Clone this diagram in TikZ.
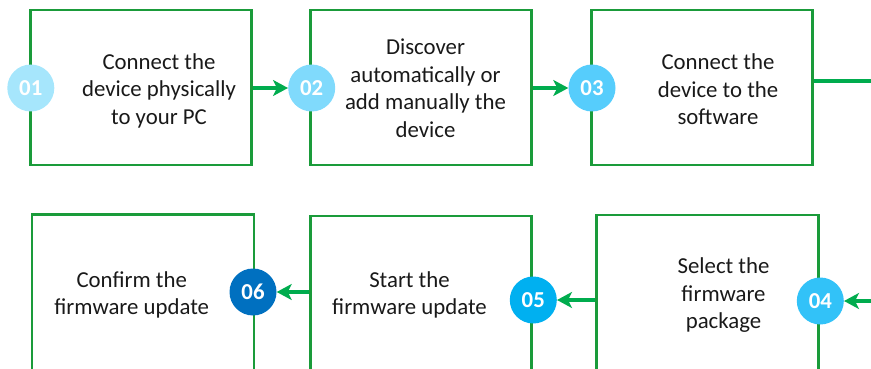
\documentclass[tikz,border=0pt]{standalone}
\usepackage{fontspec}
\setmainfont{Carlito}
\usetikzlibrary{arrows.meta}
\definecolor{boxgreen}{RGB}{26,155,58}
\definecolor{arrgreen}{RGB}{0,172,78}
\definecolor{cA}{RGB}{166,230,252}
\definecolor{cB}{RGB}{128,218,252}
\definecolor{cC}{RGB}{86,205,252}
\definecolor{cD}{RGB}{50,194,248}
\definecolor{cE}{RGB}{0,176,240}
\definecolor{cF}{RGB}{0,112,192}
\tikzset{
  stepbox/.style={draw=boxgreen, line width=2.7pt, inner sep=0pt, minimum width=221pt},
  numdot/.style={circle, inner sep=0pt, minimum size=47pt, text=white,
    font=\fontsize{22.8}{27.5}\selectfont\bfseries},
  steptext/.style={align=center, text=black!90, font=\fontsize{22.8}{27.5}\selectfont},
  arr/.style={draw=arrgreen, line width=3.6pt, -{Stealth[length=15pt,width=16pt,inset=4pt]}},
  link/.style={draw=arrgreen, line width=3.6pt}
}
\begin{document}
\begin{tikzpicture}[x=1pt,y=-1pt]
\useasboundingbox (0,0) rectangle (871,369);
\clip (0,0) rectangle (871,369);
% top row boxes
\node[stepbox, minimum height=155pt] (b1) at (140.8,87.5) {};
\node[stepbox, minimum height=155pt] (b2) at (421.3,87.5) {};
\node[stepbox, minimum height=155pt] (b3) at (701.7,87.5) {};
% bottom row boxes
\node[stepbox, minimum width=222pt, minimum height=165pt] (b6) at (143,297) {};
\node[stepbox, minimum height=165pt] (b5) at (421.3,298.5) {};
\node[stepbox, minimum width=222pt, minimum height=165pt] (b4) at (707.8,297.5) {};
% texts
\node[steptext] (t1) at (159,90.5) {Connect the\\device physically\\to your PC};
\node[steptext] (t2) at (425.5,88.3) {Discover\\automatically or\\add manually the\\device};
\node[steptext] (t3) at (718,89.5) {Connect the\\device to the\\software};
\node[steptext] (t4) at (723.5,295.3) {Select the\\firmware\\package};
\node[steptext] (t5) at (409.5,295) {Start the\\firmware update};
\node[steptext] (t6) at (131.7,295) {Confirm the\\firmware update};
% number dots
\node[numdot, fill=cA] (c1) at (30.8,88) {01};
\node[numdot, fill=cB] (c2) at (311.7,88) {02};
\node[numdot, fill=cC] (c3) at (592,88) {03};
\node[numdot, fill=cD] (c4) at (820.3,301) {04};
\node[numdot, fill=cE] (c5) at (533.3,300) {05};
\node[numdot, fill=cF] (c6) at (253,292) {06};
% connectors
\coordinate (out3) at (880,81);
\coordinate (in4) at (880,301);
\draw[arr] (b1.east |- c2.west) -- (c2.west);
\draw[arr] (b2.east |- c3.west) -- (c3.west);
\draw[link] (b3.east |- out3) -- (out3);
\draw[arr] (in4) -- (c4.east);
\draw[arr] (b4.west |- c5.east) -- (c5.east);
\draw[arr] (b5.west |- c6.east) -- (c6.east);
\end{tikzpicture}
\end{document}
